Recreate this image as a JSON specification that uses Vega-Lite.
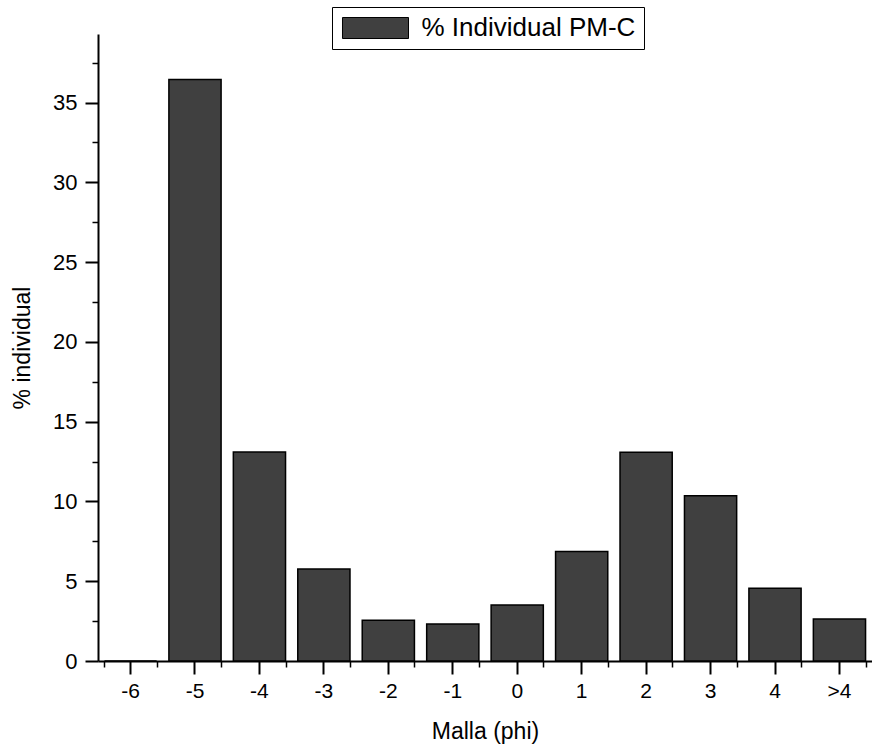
{
  "$schema": "https://vega.github.io/schema/vega-lite/v6.json",
  "width": 774,
  "height": 627,
  "autosize": {"type": "none"},
  "padding": {"left": 98, "top": 34, "right": 0, "bottom": 89},
  "background": "white",
  "config": {
    "view": {"stroke": null},
    "font": "Liberation Sans",
    "axis": {"grid": false, "labelFont": "Liberation Sans", "titleFont": "Liberation Sans", "labelColor": "black", "titleColor": "black", "tickColor": "black", "domainColor": "black", "titleFontWeight": "normal"}
  },
  "data": {
    "values": [
      {"malla": "-6", "pct": 0, "serie": "% Individual PM-C"},
      {"malla": "-5", "pct": 36.45, "serie": "% Individual PM-C"},
      {"malla": "-4", "pct": 13.1, "serie": "% Individual PM-C"},
      {"malla": "-3", "pct": 5.77, "serie": "% Individual PM-C"},
      {"malla": "-2", "pct": 2.55, "serie": "% Individual PM-C"},
      {"malla": "-1", "pct": 2.32, "serie": "% Individual PM-C"},
      {"malla": "0", "pct": 3.51, "serie": "% Individual PM-C"},
      {"malla": "1", "pct": 6.86, "serie": "% Individual PM-C"},
      {"malla": "2", "pct": 13.09, "serie": "% Individual PM-C"},
      {"malla": "3", "pct": 10.35, "serie": "% Individual PM-C"},
      {"malla": "4", "pct": 4.56, "serie": "% Individual PM-C"},
      {"malla": ">4", "pct": 2.63, "serie": "% Individual PM-C"}
    ]
  },
  "layer": [
    {
      "mark": {"type": "bar", "stroke": "black", "strokeWidth": 1.5},
      "encoding": {
        "x": {
          "field": "malla", "type": "nominal", "sort": null,
          "scale": {"paddingInner": 0.19, "paddingOuter": 0.1},
          "axis": {
            "orient": "bottom", "title": "Malla (phi)", "titleFontSize": 23,
            "titleY": 77, "titleBaseline": "alphabetic",
            "labelAngle": 0, "labelFontSize": 21, "labelPadding": 6,
            "tickSize": 13, "tickWidth": 2, "domainWidth": 2
          }
        },
        "y": {
          "field": "pct", "type": "quantitative",
          "scale": {"domain": [0, 39.3], "nice": false},
          "axis": {
            "orient": "left", "title": "% individual", "titleFontSize": 23,
            "titleX": -69, "titleBaseline": "alphabetic",
            "values": [0, 5, 10, 15, 20, 25, 30, 35],
            "labelFontSize": 22, "labelPadding": 8,
            "tickSize": 13, "tickWidth": 2, "domainWidth": 2
          }
        },
        "color": {
          "field": "serie", "type": "nominal",
          "scale": {"range": ["#404040"]},
          "legend": {
            "title": null, "orient": "none", "legendX": 234, "legendY": -27,
            "symbolType": "M-3.143,-1H3.143V1H-3.143Z", "symbolSize": 441,
            "symbolOffset": 22.5,
            "symbolStrokeColor": "black", "symbolStrokeWidth": 1,
            "labelFontSize": 26, "labelFont": "Liberation Sans", "labelColor": "black",
            "labelOffset": 33, "labelLimit": 600,
            "strokeColor": "black", "fillColor": "white",
            "padding": 8
          }
        }
      }
    },
    {
      "mark": {"type": "bar", "opacity": 0},
      "encoding": {
        "x": {
          "field": "malla", "type": "nominal", "sort": null,
          "axis": {"orient": "bottom", "tickBand": "extent", "labels": false, "domain": false, "title": null, "tickSize": 6, "tickWidth": 1.5}
        },
        "y": {
          "field": "pct", "type": "quantitative",
          "axis": {"orient": "left", "values": [2.5, 7.5, 12.5, 17.5, 22.5, 27.5, 32.5, 37.5], "labels": false, "domain": false, "title": null, "tickSize": 6, "tickWidth": 1.5}
        }
      }
    }
  ],
  "resolve": {"axis": {"x": "independent", "y": "independent"}}
}
